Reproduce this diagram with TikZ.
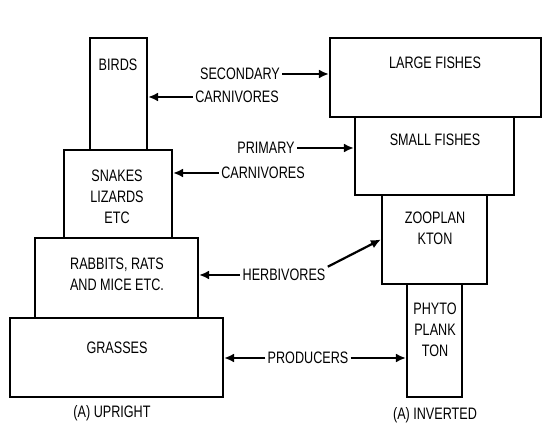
\documentclass[tikz,border=0pt]{standalone}
\usepackage{fontspec}
\newfontfamily\pyrfont[FakeStretch=0.76]{Liberation Sans}
\usetikzlibrary{arrows.meta,fit}

\begin{document}
\begin{tikzpicture}[x=0.5pt,y=-0.5pt,
  box/.style={draw,line width=1.1pt,inner sep=0pt},
  txt/.style={font=\pyrfont\fontsize{8.3}{10.5}\selectfont,align=center,inner sep=1pt},
  arr/.style={-{Latex[length=5pt,width=4.5pt]},line width=1.1pt}]
\useasboundingbox (0,0) rectangle (550,426);
% upright pyramid
\node[box,fit={(90,38) (147,150)}] (birds) {};
\node[box,fit={(64,150) (172,238)}] (snakes) {};
\node[box,fit={(35,238) (198,318)}] (rabbits) {};
\node[box,fit={(10,318) (223,397)}] (grasses) {};
\node[txt] (birdst) at (118,65) {BIRDS};
\node[txt] (snakest) at (117,197) {SNAKES\\LIZARDS\\ETC};
\node[txt] (rabbitst) at (117,274) {RABBITS, RATS\\AND MICE ETC.};
\node[txt] (grassest) at (117,348) {GRASSES};
\node[txt] (upright) at (112,413) {(A) UPRIGHT};
% inverted pyramid
\node[box,fit={(330,38) (541,117)}] (lfish) {};
\node[box,fit={(355,117) (514,195)}] (sfish) {};
\node[box,fit={(382,195) (487,284)}] (zoo) {};
\node[box,fit={(407,284) (462,397)}] (phyto) {};
\node[txt] (lfisht) at (435,63) {LARGE FISHES};
\node[txt] (sfisht) at (435,140) {SMALL FISHES};
\node[txt] (zoot) at (435,228) {ZOOPLAN\\KTON};
\node[txt] (phytot) at (435,330) {PHYTO\\PLANK\\TON};
\node[txt] (inverted) at (435,415) {(A) INVERTED};
% levels
\node[txt] (sec1) at (240,74) {SECONDARY};
\node[txt] (sec2) at (237,97) {CARNIVORES};
\node[txt] (pri1) at (266,148) {PRIMARY};
\node[txt] (pri2) at (263,173) {CARNIVORES};
\node[txt] (herb) at (284,275) {HERBIVORES};
\node[txt] (prod) at (308,358) {PRODUCERS};
\draw[arr] (sec1.east) -- (sec1.east -| lfish.west);
\draw[arr] (sec2.west) -- (sec2.west -| birds.east);
\draw[arr] (pri1.east) -- (pri1.east -| sfish.west);
\draw[arr] (pri2.west) -- (pri2.west -| snakes.east);
\draw[arr] (herb.west) -- (herb.west -| rabbits.east);
\draw[arr] (herb.north east) -- (zoo.west);
\draw[arr] (prod.west) -- (prod.west -| grasses.east);
\draw[arr] (prod.east) -- (prod.east -| phyto.west);
\end{tikzpicture}
\end{document}
